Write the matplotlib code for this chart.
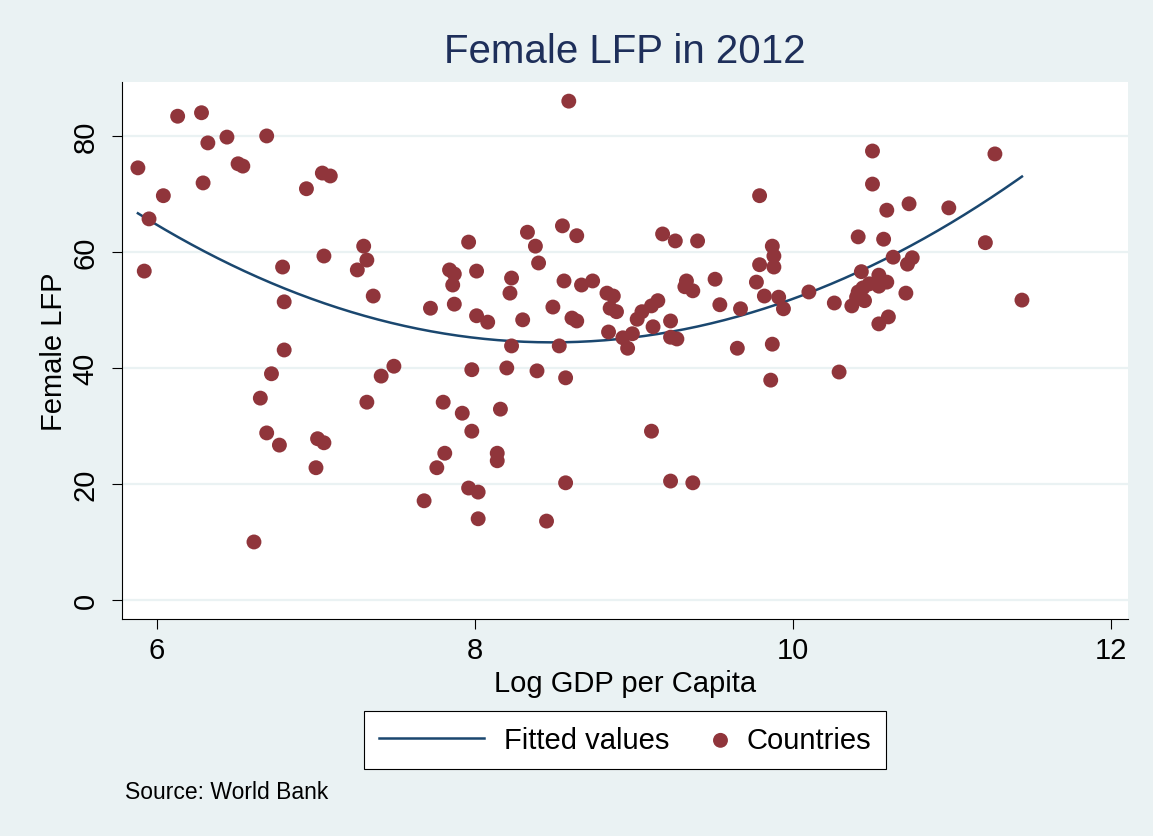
import numpy as np
import matplotlib
matplotlib.use("Agg")
import matplotlib.pyplot as plt
from matplotlib.collections import PathCollection
from matplotlib.legend_handler import HandlerPathCollection

plt.rcParams['font.family'] = ['Liberation Sans', 'DejaVu Sans']

# log GDP per capita and female labour force participation, one entry per country
gdp = [5.88, 5.95, 5.92, 6.04, 6.13, 6.28, 6.29, 6.32, 6.44, 6.51, 6.54, 6.69,
       6.94, 7.04, 7.09, 7.05, 7.30, 7.32, 7.26, 7.36, 6.79, 6.80, 6.80, 6.72,
       6.65, 6.69, 6.77, 7.01, 7.05, 7.00, 6.61, 7.32, 7.41, 7.49,
       7.72, 7.68, 7.76, 7.81, 7.80, 7.84, 7.87, 7.86, 7.87, 7.96, 7.98, 7.92,
       7.98, 7.96, 8.02, 8.02, 8.01, 8.01, 8.08, 8.16, 8.14, 8.14, 8.20, 8.22,
       8.23, 8.23, 8.30, 8.33, 8.38, 8.40, 8.39, 8.45, 8.49, 8.53, 8.55, 8.57,
       8.57, 8.56, 8.59, 8.61, 8.64, 8.64, 8.67, 8.74,
       8.83, 8.87, 8.85, 8.89, 8.84, 8.93, 8.96, 8.99, 9.02, 9.05, 9.11, 9.15,
       9.12, 9.23, 9.23, 9.27, 9.18, 9.26, 9.40, 9.33, 9.32, 9.37, 9.51, 9.54,
       9.67, 9.65, 9.11, 9.23, 9.37,
       10.50, 11.27, 10.50, 9.79, 10.73, 10.59, 10.98, 10.41, 10.57, 11.21,
       9.87, 9.88, 9.79, 9.88, 10.63, 10.75, 10.72, 10.43, 10.54, 10.59, 10.54,
       10.48, 10.44, 10.41, 10.40, 10.45, 10.37, 10.26, 10.71, 10.60, 10.54,
       11.44, 9.77, 9.82, 9.91, 9.94, 10.10, 9.87, 9.86, 10.29]
lfp = [74.5, 65.7, 56.7, 69.7, 83.4, 84.0, 71.9, 78.8, 79.8, 75.2, 74.8, 80.0,
       70.9, 73.6, 73.1, 59.3, 61.0, 58.6, 56.9, 52.4, 57.4, 51.4, 43.1, 39.0,
       34.8, 28.8, 26.7, 27.8, 27.1, 22.8, 10.0, 34.1, 38.6, 40.3,
       50.3, 17.1, 22.8, 25.3, 34.1, 56.9, 56.2, 54.3, 51.0, 61.7, 39.7, 32.2,
       29.1, 19.3, 18.6, 14.0, 56.7, 49.0, 47.9, 32.9, 25.3, 24.0, 40.0, 52.9,
       55.5, 43.8, 48.3, 63.4, 61.0, 58.1, 39.5, 13.6, 50.5, 43.8, 64.5, 38.3,
       20.2, 55.0, 86.0, 48.6, 62.8, 48.1, 54.3, 55.0,
       52.9, 52.4, 50.3, 49.7, 46.2, 45.2, 43.4, 45.9, 48.4, 49.7, 50.7, 51.6,
       47.1, 48.1, 45.3, 45.0, 63.1, 61.9, 61.9, 55.0, 54.0, 53.3, 55.3, 50.9,
       50.2, 43.4, 29.1, 20.5, 20.2,
       77.4, 76.9, 71.7, 69.7, 68.3, 67.2, 67.6, 62.6, 62.2, 61.6,
       61.0, 59.3, 57.8, 57.4, 59.1, 59.0, 57.9, 56.6, 56.0, 54.8, 54.1,
       54.5, 53.8, 53.1, 52.2, 51.6, 50.7, 51.2, 52.9, 48.8, 47.6,
       51.7, 54.8, 52.4, 52.2, 50.2, 53.1, 44.1, 37.9, 39.3]

x_ticks = [6, 8, 10, 12]
y_ticks = [0, 20, 40, 60, 80]

bg = '#EAF2F3'
navy = '#1A476F'
maroon = '#90353B'

gdp = np.array(gdp)
lfp = np.array(lfp)

# quadratic fit, as in qfit
coef = np.polyfit(gdp, lfp, 2)
xs = np.linspace(gdp.min(), gdp.max(), 200)
ys = np.polyval(coef, xs)


class RightDot(HandlerPathCollection):
    # put the legend dot at the right end of its slot, next to its label
    def get_xdata(self, legend, xdescent, ydescent, width, height, fontsize):
        xdata, _ = super().get_xdata(legend, xdescent, ydescent, width, height, fontsize)
        return xdata, [-xdescent + width - 0.2 * fontsize]


fig = plt.figure(figsize=(11.53, 8.37), dpi=100, facecolor=bg)
ax = fig.add_axes([122/1153, 1 - 620/837, (1128 - 122)/1153, (620 - 83)/837])
ax.set_facecolor('white')

line, = ax.plot(xs, ys, color=navy, lw=1.8, zorder=2)
sc = ax.scatter(gdp, lfp, s=115, color=maroon, edgecolors='none', zorder=3)

ax.set_xlim(5.78, 12.107)
ax.set_ylim(-3.28, 89.3)
ax.set_xticks(x_ticks)
ax.set_yticks(y_ticks)
ax.grid(axis='y', color=bg, lw=1.6, zorder=0)
ax.set_axisbelow(True)

for s in ['top', 'right']:
    ax.spines[s].set_visible(False)
for s in ['left', 'bottom']:
    ax.spines[s].set_color('black')
    ax.spines[s].set_linewidth(0.8)

ax.tick_params(length=7, width=0.8, color='black', labelsize=21, pad=5)
ax.tick_params(axis='y', labelrotation=90, pad=9)
for lab in ax.get_yticklabels():
    lab.set_va('center')

ax.set_xlabel('Log GDP per Capita', fontsize=21, labelpad=4)
ax.set_ylabel('Female LFP', fontsize=21, labelpad=3)

fig.text(625/1153, 1 - 52/837, 'Female LFP in 2012', fontsize=29,
         color='#1E2F5A', ha='center', va='center')

leg = fig.legend([line, sc], ['Fitted values', 'Countries'], loc='center',
                 bbox_to_anchor=(625/1153, 1 - 741/837), ncol=2, fontsize=21,
                 frameon=True, fancybox=False, edgecolor='black',
                 facecolor='white', framealpha=1, handlelength=3.6,
                 handletextpad=0.7, columnspacing=-1.65, borderpad=0.5,
                 scatterpoints=1, handler_map={PathCollection: RightDot()})
leg.get_frame().set_linewidth(0.8)

fig.text(125/1153, 1 - 793/837, 'Source: World Bank', fontsize=16.5,
         ha='left', va='center')

fig.savefig('out.png', dpi=100, facecolor=bg)
